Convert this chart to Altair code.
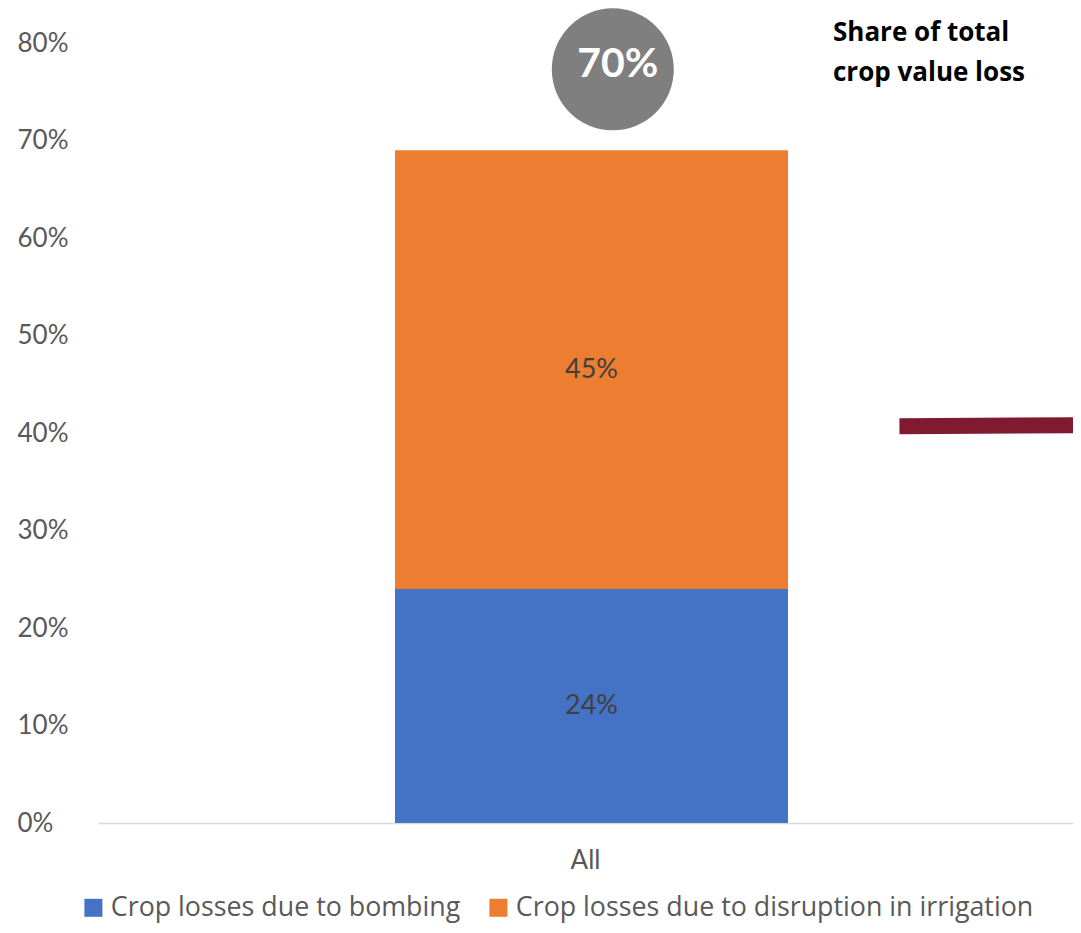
import altair as alt
import pandas as pd

# ---- data ----
categories = ["All"]
series = ["Crop losses due to bombing", "Crop losses due to disruption in irrigation"]
values = [0.24, 0.45]
value_labels = ["24%", "45%"]
colors = ["#4472C4", "#ED7D31"]

total_label = ["70%"]
bubble_x = [0.528]
bubble_y = [0.773]

share_line_x = [0.822, 1.0]
share_line_y = [0.407, 0.408]
share_title = "Share of total\ncrop value loss"

# ---- tables ----
rows = []
base = 0.0
for s, v, lab, i in zip(series, values, value_labels, range(len(series))):
    rows.append({"cat": categories[0], "series": s, "y0": base, "y1": base + v,
                 "mid": base + v / 2, "label": lab, "order": i})
    base += v
bars_df = pd.DataFrame(rows)
bubble_df = pd.DataFrame({"x": bubble_x, "y": bubble_y, "label": total_label})
line_df = pd.DataFrame({"x": share_line_x, "y": share_line_y})
title_df = pd.DataFrame({"t": [share_title]})

FONT = "Lato"
LFONT = "Open Sans"
yscale = alt.Scale(domain=[0, 0.8])
yaxis = alt.Axis(values=[0, 0.1, 0.2, 0.3, 0.4, 0.5, 0.6, 0.7, 0.8], format=".0%",
                 labelAlign="left", labelPadding=81, labelFontSize=26,
                 labelColor="#595959", labelFont=FONT, ticks=False, domain=False,
                 grid=False, title=None, labelBaseline="middle")

bars = alt.Chart(bars_df).mark_bar(size=393, xOffset=6).encode(
    x=alt.X("cat:N", title=None, sort=categories,
            axis=alt.Axis(labelAngle=0, ticks=False, labelPadding=24, labelFontSize=26,
                          labelColor="#595959", labelFont=FONT, domainColor="#d9d9d9",
                          domainWidth=1.5)),
    y=alt.Y("y0:Q", scale=yscale, axis=yaxis),
    y2="y1:Q",
    color=alt.Color("series:N", scale=alt.Scale(domain=series, range=colors),
                    legend=alt.Legend(title=None, orient="none", legendX=-18, legendY=851,
                                      direction="horizontal", symbolType="square",
                                      symbolSize=324, symbolStrokeWidth=0,
                                      labelFontSize=26.8, labelColor="#595959",
                                      labelFont=LFONT, labelLimit=0, columnPadding=24,
                                      labelOffset=4, padding=0)),
)

bar_labels = alt.Chart(bars_df).mark_text(fontSize=27, font=FONT, color="#404040", dx=6).encode(
    x=alt.X("cat:N", sort=categories),
    y=alt.Y("mid:Q", scale=yscale),
    text="label:N",
)

hx = alt.Scale(domain=[0, 1])

share_line = alt.Chart(line_df).mark_line(color="#7f1a2f", strokeWidth=16, strokeCap="butt").encode(
    x=alt.X("x:Q", scale=hx, axis=None),
    y=alt.Y("y:Q", scale=yscale),
)

bubble = alt.Chart(bubble_df).mark_circle(size=14884, color="#7f7f7f", opacity=1).encode(
    x=alt.X("x:Q", scale=hx, axis=None),
    y=alt.Y("y:Q", scale=yscale),
)
bubble_text = alt.Chart(bubble_df).mark_text(fontSize=41, font=FONT, fontWeight="bold",
                                             color="white", dx=5, dy=-4).encode(
    x=alt.X("x:Q", scale=hx, axis=None),
    y=alt.Y("y:Q", scale=yscale),
    text="label:N",
)

title_text = alt.Chart(title_df).mark_text(fontSize=26, font=LFONT, fontWeight="bold",
                                           color="black", align="left", baseline="middle",
                                           lineBreak="\n", lineHeight=40).encode(
    x=alt.value(735), y=alt.value(-10), text="t:N")

chart = alt.layer(
    alt.layer(bars, bar_labels),
    alt.layer(share_line, bubble, bubble_text, title_text),
).resolve_scale(x="independent").properties(
    width=975, height=780,
    autosize=alt.AutoSizeParams(type="none"),
    padding={"left": 90, "top": 35, "right": 0, "bottom": 102},
).configure_view(stroke=None)

chart.save("out.html", embed_options={"renderer": "svg", "actions": False})
